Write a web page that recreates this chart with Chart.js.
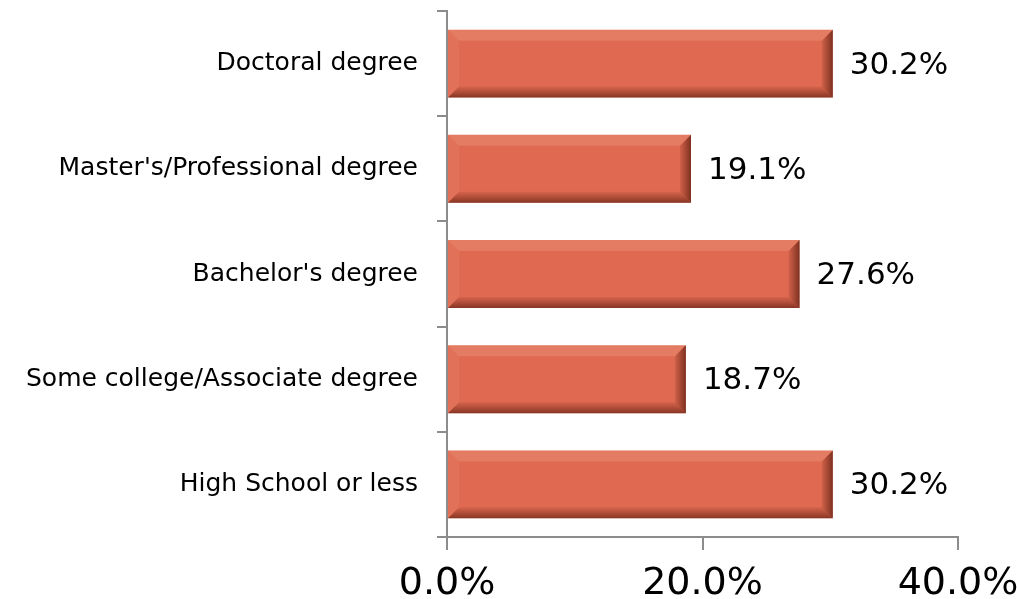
<!DOCTYPE html>
<html>
<head>
<meta charset="utf-8">
<script src="https://cdn.jsdelivr.net/npm/chart.js@4"></script>
<style>
    html, body { margin: 0; padding: 0; background: #fff; }
    #wrap { width: 1017px; height: 599px; }
</style>
</head>
<body>
<div id="wrap"><canvas id="degreeChart"></canvas></div>
<script>
// Data
const categories = [
    'Doctoral degree',
    "Master's/Professional degree",
    "Bachelor's degree",
    'Some college/Associate degree',
    'High School or less'
];
const shares = [30.2, 19.1, 27.6, 18.7, 30.2];
const xTicks = [0, 20, 40];

const FONT = "'DejaVu Sans', sans-serif";
const AXIS_GREY = '#8c8c8c';

// Bevel look on each bar (uses the bar elements Chart.js laid out)
const bevelPlugin = {
    id: 'bevel',
    afterDatasetDraw(chart, args) {
        const c = chart.ctx;
        args.meta.data.forEach(bar => {
            const p = bar.getProps(['x', 'y', 'base', 'height'], true);
            const l = p.base, r = p.x, t = p.y - p.height / 2, b = p.y + p.height / 2;
            const s = 11;
            c.save();
            // top edge - lighter
            c.fillStyle = 'rgba(255, 215, 195, 0.16)';
            c.beginPath();
            c.moveTo(l, t); c.lineTo(r, t); c.lineTo(r - s, t + s); c.lineTo(l + s, t + s);
            c.fill();
            // left edge - slightly lighter
            c.fillStyle = 'rgba(255, 215, 195, 0.08)';
            c.beginPath();
            c.moveTo(l, t); c.lineTo(l + s, t + s); c.lineTo(l + s, b - s); c.lineTo(l, b);
            c.fill();
            // bottom edge - darker towards the edge
            const g = c.createLinearGradient(0, b - s, 0, b);
            g.addColorStop(0, 'rgba(90, 20, 5, 0.08)');
            g.addColorStop(1, 'rgba(60, 10, 0, 0.55)');
            c.fillStyle = g;
            c.beginPath();
            c.moveTo(l, b); c.lineTo(l + s, b - s); c.lineTo(r - s, b - s); c.lineTo(r, b);
            c.fill();
            // right edge - darker towards the edge
            const g2 = c.createLinearGradient(r - s, 0, r, 0);
            g2.addColorStop(0, 'rgba(70, 15, 0, 0.1)');
            g2.addColorStop(1, 'rgba(60, 10, 0, 0.6)');
            c.fillStyle = g2;
            c.beginPath();
            c.moveTo(r, t); c.lineTo(r, b); c.lineTo(r - s, b - s); c.lineTo(r - s, t + s);
            c.fill();
            c.restore();
        });
    }
};

// Value labels to the right of the bars
const valueLabels = {
    id: 'valueLabels',
    afterDatasetsDraw(chart) {
        const c = chart.ctx;
        const meta = chart.getDatasetMeta(0);
        c.save();
        c.font = '31px ' + FONT;
        c.fillStyle = '#000';
        c.textAlign = 'left';
        c.textBaseline = 'middle';
        meta.data.forEach((bar, i) => {
            c.fillText(shares[i].toFixed(1) + '%', bar.x + 17, bar.y + 2);
        });
        c.restore();
    }
};

const degreeCtx = document.getElementById('degreeChart').getContext('2d');
new Chart(degreeCtx, {
    type: 'bar',
    data: {
        labels: categories,
        datasets: [{
            data: shares,
            backgroundColor: '#df6a51',
            borderWidth: 0,
            barPercentage: 0.645,
            categoryPercentage: 1
        }]
    },
    options: {
        indexAxis: 'y',
        responsive: true,
        maintainAspectRatio: false,
        animation: false,
        layout: {
            padding: { top: 11, right: 59, bottom: 0, left: 0 }
        },
        plugins: {
            legend: { display: false },
            tooltip: { enabled: false }
        },
        scales: {
            x: {
                min: xTicks[0],
                max: xTicks[xTicks.length - 1],
                afterBuildTicks: scale => {
                    scale.ticks = xTicks.map(v => ({ value: v }));
                },
                afterFit: scale => {
                    scale.height = 62;
                    scale.paddingLeft = 0;
                    scale.paddingRight = 0;
                },
                grid: {
                    drawOnChartArea: false,
                    drawTicks: true,
                    tickLength: 13,
                    color: AXIS_GREY,
                    lineWidth: 2
                },
                border: { display: true, color: AXIS_GREY, width: 2 },
                ticks: {
                    color: '#000',
                    padding: 11,
                    font: { family: FONT, size: 38 },
                    callback: v => v.toFixed(1) + '%'
                }
            },
            y: {
                afterFit: scale => {
                    scale.width = 447;
                    scale.paddingTop = 0;
                    scale.paddingBottom = 0;
                },
                grid: {
                    drawOnChartArea: false,
                    drawTicks: true,
                    tickLength: 10,
                    color: AXIS_GREY,
                    lineWidth: 2
                },
                border: { display: true, color: AXIS_GREY, width: 2 },
                ticks: {
                    color: '#000',
                    padding: 19,
                    font: { family: FONT, size: 25 }
                }
            }
        }
    },
    plugins: [bevelPlugin, valueLabels]
});
</script>
</body>
</html>
